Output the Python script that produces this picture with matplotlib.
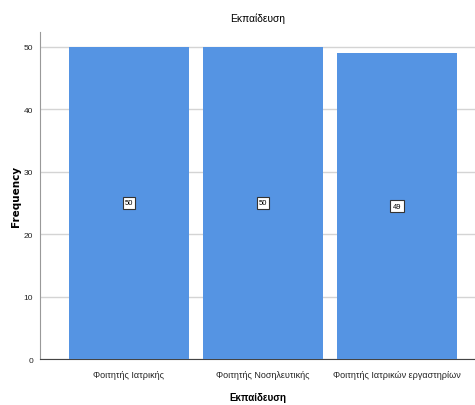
import numpy as np
import matplotlib
matplotlib.use("Agg")
from matplotlib import pyplot as plt

# Συχνότητες ανά κατηγορία εκπαίδευσης
categories = ["Φοιτητής Ιατρικής", "Φοιτητής Νοσηλευτικής", "Φοιτητής Ιατρικών εργαστηρίων"]
counts = [50, 50, 49]
yticks = [0, 10, 20, 30, 40, 50]

plt.rcParams['font.family'] = ['Liberation Sans', 'DejaVu Sans']

fig = plt.figure(figsize=(4.75, 4.06), dpi=100)
ax = fig.add_axes([0.0842, 0.1133, 0.9158, 0.8054])

x = np.arange(len(categories))
ax.bar(x, counts, width=0.895, color="#5594e3", zorder=3)

# ετικέτες τιμών στο μέσο κάθε μπάρας
for xi, c in zip(x, counts):
    ax.text(xi, c / 2, str(c), ha="center", va="center", fontsize=5.5, zorder=4,
            bbox=dict(boxstyle="square,pad=0.3", fc="white", ec="#333333", lw=0.8))

ax.set_xlim(-0.664, 2.582)
ax.set_ylim(0, 52.4)
ax.set_yticks(yticks)
ax.set_xticks(x)
ax.set_xticklabels(categories, fontsize=6.5, color="#222222")
ax.tick_params(axis="y", labelsize=6, length=0, pad=5, colors="#222222")
ax.tick_params(axis="x", length=0, pad=8)

ax.yaxis.grid(True, color="#d4d4d4", lw=1, zorder=0)
ax.set_axisbelow(True)
for s in ["top", "right"]:
    ax.spines[s].set_visible(False)
ax.spines["left"].set_color("#999999")
ax.spines["bottom"].set_color("#444444")

ax.set_title("Εκπαίδευση", fontsize=7.4, pad=8)
ax.set_xlabel("Εκπαίδευση", fontsize=7, fontweight="bold", labelpad=9)
ax.set_ylabel("Frequency", fontsize=7.5, fontweight="bold", family="DejaVu Sans", labelpad=2)

fig.savefig("out.png", dpi=100)
